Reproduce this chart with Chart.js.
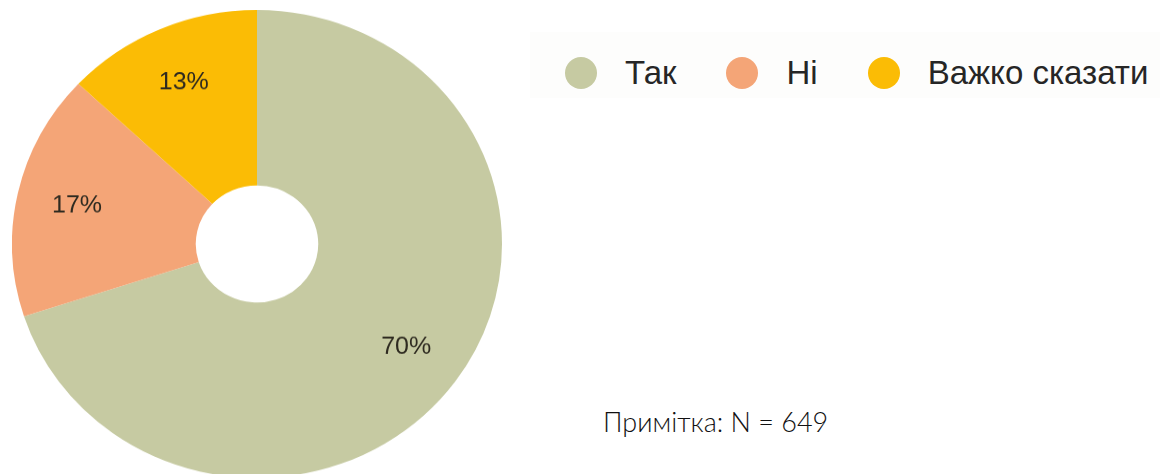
<!DOCTYPE html>
<html lang="uk">
<head>
<meta charset="utf-8">
<title>Опитування</title>
<script src="https://cdn.jsdelivr.net/npm/chart.js@4.4.1/dist/chart.umd.min.js"></script>
<style>
  html, body { margin: 0; padding: 0; background: #ffffff; width: 1176px; height: 474px; overflow: hidden; }
  #pieBox {
    position: absolute; left: 12px; top: 10px; width: 490px; height: 490px;
    transform: scaleY(0.955); transform-origin: 0 0;
  }
  #legendBand {
    position: absolute; left: 530px; top: 32px; width: 630px; height: 66px;
    background: #fdfdfc;
  }
  #legend {
    position: absolute; left: 565px; top: 54px; height: 38px;
    display: flex; align-items: center;
    font-family: "Liberation Sans", Arial, sans-serif; font-size: 33px; color: #262626;
  }
  .legend-item { display: flex; align-items: center; margin-right: 50px; white-space: nowrap; }
  .legend-dot { width: 32px; height: 32px; border-radius: 50%; margin-right: 28px; }
  #note {
    position: absolute; left: 603px; top: 405px;
    font-family: Lato, "Open Sans", sans-serif; font-weight: 300; font-size: 27px; color: #111111;
    white-space: nowrap;
  }
</style>
</head>
<body>
<div id="pieBox"><canvas id="pie" width="490" height="490"></canvas></div>
<div id="legendBand"></div>
<div id="legend"></div>
<div id="note">Примітка: N = 649</div>
<script>
// Відповіді респондентів, у відсотках
const categories = ['Так', 'Ні', 'Важко сказати'];
const shares = [70, 17, 13];
const sliceColors = ['#c6caa2', '#f4a577', '#fbbc05'];

// Підписи відсотків усередині кожного сектора
const sliceLabels = {
  id: 'sliceLabels',
  afterDatasetsDraw(chart) {
    const { ctx } = chart;
    const meta = chart.getDatasetMeta(0);
    const values = chart.data.datasets[0].data;
    ctx.save();
    ctx.font = '25px "Liberation Sans", Arial, sans-serif';
    ctx.fillStyle = '#2e2a20';
    ctx.textAlign = 'center';
    ctx.textBaseline = 'middle';
    meta.data.forEach((arc, i) => {
      const p = arc.getProps(['x', 'y', 'startAngle', 'endAngle', 'innerRadius', 'outerRadius'], true);
      const mid = (p.startAngle + p.endAngle) / 2;
      const r = p.innerRadius + (p.outerRadius - p.innerRadius) * 0.67;
      ctx.fillText(values[i] + '%', p.x + Math.cos(mid) * r, p.y + Math.sin(mid) * r);
    });
    ctx.restore();
  }
};

const chart = new Chart(document.getElementById('pie'), {
  type: 'doughnut',
  data: {
    labels: categories,
    datasets: [{
      data: shares,
      backgroundColor: sliceColors,
      borderWidth: 0,
      hoverOffset: 0
    }]
  },
  options: {
    responsive: false,
    animation: false,
    cutout: '25%',
    rotation: 0,
    layout: { padding: 0 },
    plugins: {
      legend: { display: false },
      tooltip: { enabled: false }
    }
  },
  plugins: [sliceLabels]
});

// Легенда з елементів, які формує сам Chart.js
const legendBox = document.getElementById('legend');
chart.options.plugins.legend.labels.generateLabels(chart).forEach(item => {
  const row = document.createElement('div');
  row.className = 'legend-item';
  const dot = document.createElement('span');
  dot.className = 'legend-dot';
  dot.style.background = item.fillStyle;
  const text = document.createElement('span');
  text.textContent = item.text;
  row.appendChild(dot);
  row.appendChild(text);
  legendBox.appendChild(row);
});
</script>
</body>
</html>
